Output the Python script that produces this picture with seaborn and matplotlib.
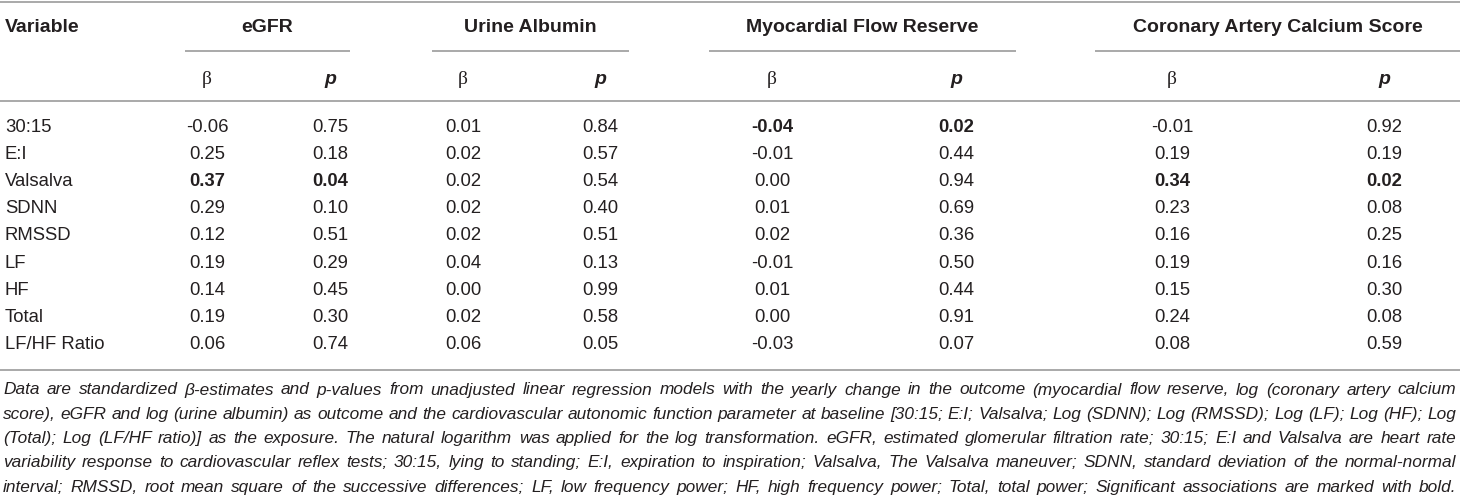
import matplotlib
matplotlib.use("Agg")
import matplotlib.pyplot as plt
import seaborn as sns

variables = ["30:15", "E:I", "Valsalva", "SDNN", "RMSSD", "LF", "HF", "Total", "LF/HF Ratio"]
outcomes = ["eGFR", "Urine Albumin", "Myocardial Flow Reserve", "Coronary Artery Calcium Score"]

egfr_beta = [-0.06, 0.25, 0.37, 0.29, 0.12, 0.19, 0.14, 0.19, 0.06]
egfr_p = [0.75, 0.18, 0.04, 0.10, 0.51, 0.29, 0.45, 0.30, 0.74]
ua_beta = [0.01, 0.02, 0.02, 0.02, 0.02, 0.04, 0.00, 0.02, 0.06]
ua_p = [0.84, 0.57, 0.54, 0.40, 0.51, 0.13, 0.99, 0.58, 0.05]
mfr_beta = [-0.04, -0.01, 0.00, 0.01, 0.02, -0.01, 0.01, 0.00, -0.03]
mfr_p = [0.02, 0.44, 0.94, 0.69, 0.36, 0.50, 0.44, 0.91, 0.07]
cacs_beta = [-0.01, 0.19, 0.34, 0.23, 0.16, 0.19, 0.15, 0.24, 0.08]
cacs_p = [0.92, 0.19, 0.02, 0.08, 0.25, 0.16, 0.30, 0.08, 0.59]

# significant cells (variable, outcome) shown in bold
significant = [("30:15", "Myocardial Flow Reserve"),
               ("Valsalva", "eGFR"),
               ("Valsalva", "Coronary Artery Calcium Score")]

footnote_lines = [
    "Data are standardized \u03b2-estimates and p-values from unadjusted linear regression models with the yearly change in the outcome (myocardial flow reserve, log (coronary artery calcium",
    "score), eGFR and log (urine albumin) as outcome and the cardiovascular autonomic function parameter at baseline [30:15; E:I; Valsalva; Log (SDNN); Log (RMSSD); Log (LF); Log (HF); Log",
    "(Total); Log (LF/HF ratio)] as the exposure. The natural logarithm was applied for the log transformation. eGFR, estimated glomerular filtration rate; 30:15; E:I and Valsalva are heart rate",
    "variability response to cardiovascular reflex tests; 30:15, lying to standing; E:I, expiration to inspiration; Valsalva, The Valsalva maneuver; SDNN, standard deviation of the normal-normal",
    "interval; RMSSD, root mean square of the successive differences; LF, low frequency power; HF, high frequency power; Total, total power; Significant associations are marked with bold.",
]

columns = {
    "eGFR": (egfr_beta, egfr_p),
    "Urine Albumin": (ua_beta, ua_p),
    "Myocardial Flow Reserve": (mfr_beta, mfr_p),
    "Coronary Artery Calcium Score": (cacs_beta, cacs_p),
}

sns.set_theme(style="white")
plt.rcParams["font.family"] = ["Liberation Sans", "DejaVu Sans"]

W, H = 1460, 504
fig = plt.figure(figsize=(W / 100, H / 100), dpi=100)
ax = fig.add_axes([0, 0, 1, 1])
ax.set_xlim(0, W)
ax.set_ylim(H, 0)
ax.axis("off")

txt = "#231f20"
rule = "#a3a3a3"

# layout (pixel units)
group_x = {"eGFR": (185, 350), "Urine Albumin": (432, 629),
           "Myocardial Flow Reserve": (709, 1016),
           "Coronary Artery Calcium Score": (1095, 1460)}
beta_x = {"eGFR": 207, "Urine Albumin": 463,
          "Myocardial Flow Reserve": 772, "Coronary Artery Calcium Score": 1172}
p_x = {"eGFR": 330, "Urine Albumin": 600,
       "Myocardial Flow Reserve": 956, "Coronary Artery Calcium Score": 1384}

y_head, y_under, y_sub, y_rule = 28, 51, 80, 101
y_row0, row_h = 127, 27.2
y_bottom = y_row0 + (len(variables) - 1) * row_h + 25
y_foot0, foot_h = 390, 24.3

hfs, dfs = 14, 13.3

for y in (1.5, y_rule, y_bottom):
    ax.plot([0, W], [y, y], color=rule, lw=1.3, solid_capstyle="butt")

ax.text(5, y_head, "Variable", ha="left", va="center", fontsize=hfs,
        fontweight="bold", color=txt)
for name in outcomes:
    x0, x1 = group_x[name]
    ax.text((x0 + x1) / 2, y_head, name, ha="center", va="center",
            fontsize=hfs, fontweight="bold", color=txt)
    ax.plot([x0, x1], [y_under, y_under], color=rule, lw=1.3, solid_capstyle="butt")
    ax.text(beta_x[name], y_sub, "\u03b2", ha="center", va="center",
            fontsize=hfs, color=txt, family=["Liberation Serif", "DejaVu Serif"])
    ax.text(p_x[name], y_sub, "p", ha="center", va="center", fontsize=hfs,
            fontweight="bold", fontstyle="italic", color=txt)

for i, var in enumerate(variables):
    y = y_row0 + i * row_h
    ax.text(5, y, var, ha="left", va="center", fontsize=dfs, color=txt)
    for name in outcomes:
        betas, ps = columns[name]
        weight = "bold" if (var, name) in significant else "normal"
        ax.text(beta_x[name], y, f"{betas[i]:.2f}", ha="center", va="center",
                fontsize=dfs, fontweight=weight, color=txt)
        ax.text(p_x[name], y, f"{ps[i]:.2f}", ha="center", va="center",
                fontsize=dfs, fontweight=weight, color=txt)

# justified italic footnote
renderer = fig.canvas.get_renderer()
left, right = 3, W - 4


def text_width(s, fs):
    t = ax.text(0, 0, s, fontsize=fs, fontstyle="italic")
    wd = t.get_window_extent(renderer).width
    t.remove()
    return wd


# size the footnote so the longest line just fills the width
base = 12
widest = max(text_width(line, base) for line in footnote_lines)
ffs = base * (right - left) / widest * 0.995

for j, line in enumerate(footnote_lines):
    words = line.split(" ")
    widths = [text_width(w, ffs) for w in words]
    gap = (right - left - sum(widths)) / (len(words) - 1)
    x = left
    y = y_foot0 + j * foot_h
    for w, wd in zip(words, widths):
        ax.text(x, y, w, ha="left", va="center", fontsize=ffs,
                fontstyle="italic", color=txt)
        x += wd + gap

fig.savefig("out.png", dpi=100)
